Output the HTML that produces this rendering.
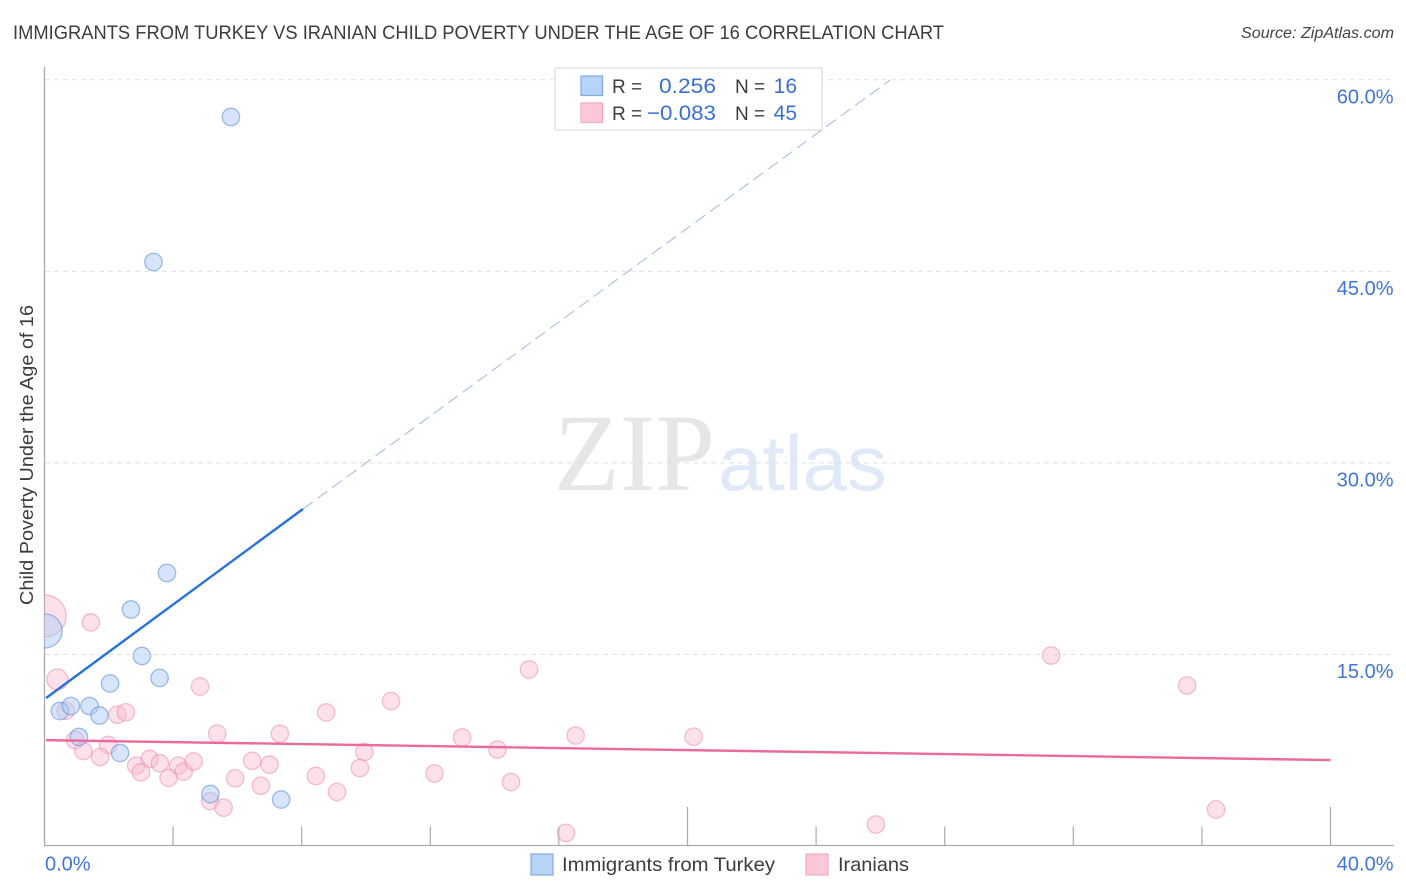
<!DOCTYPE html>
<html lang="en">
<head>
<meta charset="utf-8">
<title>Immigrants from Turkey vs Iranian Child Poverty Correlation Chart</title>
<style>
html,body{margin:0;padding:0;background:#fff;}
svg{display:block;font-family:"Liberation Sans",sans-serif;}
</style>
</head>
<body>
<svg id="chart" xmlns="http://www.w3.org/2000/svg" width="1406" height="892" viewBox="0 0 1406 892">
  <defs>
    <clipPath id="plot-clip"><rect x="44.5" y="60" width="1350" height="786"></rect></clipPath>
  </defs>
  <text x="13" y="39" font-size="19" fill="#3c3c3c" textLength="931" lengthAdjust="spacingAndGlyphs">IMMIGRANTS FROM TURKEY VS IRANIAN CHILD POVERTY UNDER THE AGE OF 16 CORRELATION CHART</text>
  <text x="1394" y="38" font-size="15.5" font-style="italic" fill="#444" text-anchor="end" textLength="153" lengthAdjust="spacingAndGlyphs">Source: ZipAtlas.com</text>

  <g>
    <text x="554" y="490" font-family="'Liberation Serif',serif" font-size="110" fill="#e6e6e6" textLength="161" lengthAdjust="spacingAndGlyphs">ZIP</text>
    <text x="718" y="490" font-size="78" fill="#dfe9f8" textLength="169" lengthAdjust="spacingAndGlyphs">atlas</text>
  </g>

  <g id="grid"></g>
  <g id="axes"></g>
  <g id="y-labels"></g>
  <g id="x-labels"></g>

  <text x="0" y="0" transform="translate(33,455) rotate(-90)" font-size="18.5" fill="#3c3c3c" text-anchor="middle" textLength="300" lengthAdjust="spacingAndGlyphs">Child Poverty Under the Age of 16</text>

  <g id="points" clip-path="url(#plot-clip)"></g>
  <g id="trends"></g>

  <g>
    <rect x="555" y="68" width="267" height="62" fill="#fff" stroke="#ddd" stroke-width="1.2"></rect>
    <rect x="581" y="76" width="21.5" height="19.5" fill="#b7d3f8" stroke="#80a9e2" stroke-width="1.2"></rect>
    <rect x="581" y="103" width="21.5" height="19.5" fill="#fcc8d9" stroke="#f4a9c2" stroke-width="1.2"></rect>
    <text x="612" y="93" font-size="19" fill="#3c3c3c">R =</text>
    <text x="716" y="93" font-size="21" fill="#3a70d6" text-anchor="end" textLength="57" lengthAdjust="spacingAndGlyphs">0.256</text>
    <text x="735" y="93" font-size="19" fill="#3c3c3c">N =</text>
    <text x="797" y="93" font-size="21" fill="#3a70d6" text-anchor="end">16</text>
    <text x="612" y="120" font-size="19" fill="#3c3c3c">R =</text>
    <text x="716" y="120" font-size="21" fill="#3a70d6" text-anchor="end" textLength="69" lengthAdjust="spacingAndGlyphs">−0.083</text>
    <text x="735" y="120" font-size="19" fill="#3c3c3c">N =</text>
    <text x="797" y="120" font-size="21" fill="#3a70d6" text-anchor="end">45</text>
  </g>

  <g>
    <rect x="531" y="854" width="22" height="21" fill="#b7d3f8" stroke="#80a9e2" stroke-width="1.2"></rect>
    <text x="562" y="871" font-size="19.5" fill="#3c3c3c" textLength="213" lengthAdjust="spacingAndGlyphs">Immigrants from Turkey</text>
    <rect x="806" y="854" width="22" height="21" fill="#fcc8d9" stroke="#f4a9c2" stroke-width="1.2"></rect>
    <text x="838" y="871" font-size="19.5" fill="#3c3c3c" textLength="71" lengthAdjust="spacingAndGlyphs">Iranians</text>
  </g>
</svg>

<script>
// Data (x = percent immigrants, y = percent child poverty)
const turkeyX = [5.80, 3.39, 3.81, 2.69, 3.03, 3.58, 2.04, 0.48, 0.82, 1.40, 1.71, 1.07, 2.35, 5.16, 7.36, 0.02];
const turkeyY = [57.09, 45.73, 21.38, 18.52, 14.88, 13.16, 12.73, 10.57, 10.96, 10.96, 10.22, 8.54, 7.28, 4.07, 3.64, 16.84];
const turkeyWeight = [1, 1, 1, 1, 1, 1, 1, 1, 1, 1, 1, 1, 1, 1, 1, 3.8];

const iranX = [0.02, 1.44, 0.40, 4.84, 0.66, 2.27, 2.53, 5.37, 7.32, 0.95, 1.98, 1.21, 1.73, 2.85, 3.27, 3.59, 3.00, 4.16, 4.33, 4.64, 3.86, 6.46, 7.00, 5.93, 6.73, 5.15, 5.57, 8.44, 8.76, 10.78, 9.95, 9.81, 9.10, 15.07, 12.99, 14.09, 12.13, 14.51, 16.22, 16.52, 20.19, 25.86, 31.31, 35.54, 36.44];
const iranY = [18.01, 17.51, 13.04, 12.49, 10.59, 10.28, 10.47, 8.79, 8.79, 8.30, 7.91, 7.44, 6.97, 6.29, 6.82, 6.48, 5.77, 6.29, 5.83, 6.62, 5.34, 6.67, 6.37, 5.30, 4.72, 3.52, 3.00, 5.48, 10.46, 11.35, 7.36, 6.11, 4.23, 13.82, 8.50, 7.56, 5.68, 5.01, 1.02, 8.65, 8.56, 1.68, 14.92, 12.57, 2.86];
const iranWeight = [5.8, 1, 1.45, 1, 1, 1, 1, 1, 1, 1, 1, 1, 1, 1, 1, 1, 1, 1, 1, 1, 1, 1, 1, 1, 1, 1, 1, 1, 1, 1, 1, 1, 1, 1, 1, 1, 1, 1, 1, 1, 1, 1, 1, 1, 1];

// Trend lines: [start, end] in data units
const turkeySolidX = [0.05, 8.04];
const turkeySolidY = [11.59, 26.39];
const turkeyDashX = [8.04, 26.30];
const turkeyDashY = [26.39, 59.98];
const iranTrendX = [0.05, 40];
const iranTrendY = [8.29, 6.73];

// Axis ticks
const yTicks = [15, 30, 45, 60];
const yTickLabels = ["15.0%", "30.0%", "45.0%", "60.0%"];
const xTicks = [4, 8, 12, 16, 20, 24, 28, 32, 36, 40];
const xMajorTicks = [20, 40];
const xEndTicks = [0, 40];
const xEndLabels = ["0.0%", "40.0%"];

// Axis functions
function xScale(v) { return 44.5 + v * 32.15; }
function yScale(v) { return 846 - v * 12.77; }
function rScale(w) { return 8.7 * Math.sqrt(w); }

const NS = 'http://www.w3.org/2000/svg';
function make(tag, parent, attrs) {
  const el = document.createElementNS(NS, tag);
  for (const k in attrs) el.setAttribute(k, attrs[k]);
  parent.appendChild(el);
  return el;
}

const gridG = document.getElementById('grid');
yTicks.forEach(function (t) {
  const el = make('line', gridG, { x1: 45, x2: 1394, y1: yScale(t), y2: yScale(t), stroke: '#e0e0e0', 'stroke-width': 1, 'stroke-dasharray': '5 4' });
  
  
});

const axesG = document.getElementById('axes');
const yAxis = make('line', axesG, { x1: 44.5, x2: 44.5, y1: 67, y2: 846, stroke: '#aaa', 'stroke-width': 1.3 });


const xAxis = make('line', axesG, { x1: 44, x2: 1394, y1: 845.5, y2: 845.5, stroke: '#aaa', 'stroke-width': 1.3 });


xTicks.forEach(function (t) {
  const top = xMajorTicks.indexOf(t) >= 0 ? 807 : 826.5;
  const el = make('line', axesG, { x1: xScale(t), x2: xScale(t), y1: top, y2: 845.5, stroke: '#aaa', 'stroke-width': 1.2 });
  
  
});

const yLabG = document.getElementById('y-labels');
yTicks.forEach(function (t, i) {
  const el = make('text', yLabG, { x: 1393.5, y: yScale(t) + 23.5, 'font-size': 20, fill: '#3f74d8', 'text-anchor': 'end' });
  
  
  el.textContent = yTickLabels[i];
});

const xLabG = document.getElementById('x-labels');
xEndTicks.forEach(function (t, i) {
  const first = i === 0;
  const el = make('text', xLabG, { x: first ? 45 : 1393.5, y: 870.5, 'font-size': 20, fill: '#3f74d8', 'text-anchor': first ? 'start' : 'end' });
  
  
  el.textContent = xEndLabels[i];
});

const ptsG = document.getElementById('points');
iranX.forEach(function (x, i) {
  const el = make('circle', ptsG, { cx: xScale(x), cy: yScale(iranY[i]), r: rScale(iranWeight[i]), fill: '#f9bcd0', 'fill-opacity': 0.45, stroke: '#ee8aab', 'stroke-opacity': 0.55, 'stroke-width': 1.3 });
  
  
});
turkeyX.forEach(function (x, i) {
  const el = make('circle', ptsG, { cx: xScale(x), cy: yScale(turkeyY[i]), r: rScale(turkeyWeight[i]), fill: '#aecbf3', 'fill-opacity': 0.5, stroke: '#5f92d8', 'stroke-opacity': 0.6, 'stroke-width': 1.3 });
  
  
});

const trG = document.getElementById('trends');
const dash = make('line', trG, { x1: xScale(turkeyDashX[0]), y1: yScale(turkeyDashY[0]), x2: xScale(turkeyDashX[1]), y2: yScale(turkeyDashY[1]), stroke: '#7ea3d6', 'stroke-width': 1, 'stroke-opacity': 0.75, 'stroke-dasharray': '12 6' });


const solid = make('line', trG, { x1: xScale(turkeySolidX[0]), y1: yScale(turkeySolidY[0]), x2: xScale(turkeySolidX[1]), y2: yScale(turkeySolidY[1]), stroke: '#2672d8', 'stroke-width': 2.4 });


const pinkLine = make('line', trG, { x1: xScale(iranTrendX[0]), y1: yScale(iranTrendY[0]), x2: xScale(iranTrendX[1]), y2: yScale(iranTrendY[1]), stroke: '#ec6a9a', 'stroke-width': 2.4 });


</script>
</body>
</html>
